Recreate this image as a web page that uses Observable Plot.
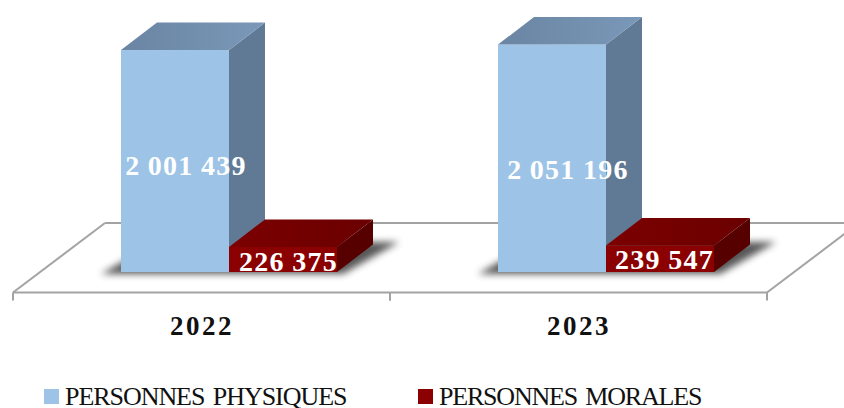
<!DOCTYPE html>
<html>
<head>
<meta charset="utf-8">
<script src="https://cdn.jsdelivr.net/npm/d3@7"></script>
<script src="https://cdn.jsdelivr.net/npm/@observablehq/plot@0.6"></script>
<style>
  html, body { margin: 0; padding: 0; background: #fff; }
  #chart { position: relative; width: 844px; height: 408px; overflow: hidden; }
  .shadow { filter: blur(3.5px); opacity: .85; }
  .lbl text, text.lbl, .lbl { letter-spacing: 1.3px; word-spacing: -1px; }
  .yr text, .yr { letter-spacing: 2.5px; }
  .legend { position: absolute; top: 380px; left: 0; width: 844px; height: 28px;
            font-family: "Liberation Serif", serif; font-size: 26px; color: #111; }
  .legend span { position: absolute; top: 6px; line-height: 22px; white-space: nowrap; word-spacing: 3px; }
  .legend i { position: absolute; top: 9px; width: 15px; height: 15px; }
</style>
</head>
<body>
<div id="chart"></div>
<script>
const years = ["2022", "2023"];
const series = ["PERSONNES PHYSIQUES", "PERSONNES MORALES"];
const physiques = [2001439, 2051196];
const morales = [226375, 239547];

const frontColors = ["#9dc3e6", "#8b0000"];
const sideColors = ["#607a96", "#560000"];
const topColors = [["#6a85a3", "#7a98b8"], ["#7c0000", "#6a0000"]];
const labelColor = "#ffffff";
// pixel nudges for the value labels [dx, dy], by series then year
const labelNudge = [[[10.5, 5], [15.5, 11]], [[5, 2], [4, 1]]];
const depth = {x: 36, y: 27.5};
const floorDepth = {x: 92, y: 69.5};
const serif = '"Liberation Serif", serif';

const rows = [];
years.forEach((year, i) => {
  rows.push({year, serie: series[0], value: physiques[i], s: 0, i});
  rows.push({year, serie: series[1], value: morales[i], s: 1, i});
});
const fmt = v => d3.format(",")(v).replace(/,/g, " ");
const svgNS = "http://www.w3.org/2000/svg";
function poly(parent, pts, fill) {
  const p = document.createElementNS(svgNS, "polygon");
  p.setAttribute("points", pts.map(d => d.join(",")).join(" "));
  p.setAttribute("fill", fill);
  parent.appendChild(p);
  return p;
}
const rectBox = r => ({
  x: +r.getAttribute("x"), y: +r.getAttribute("y"),
  w: +r.getAttribute("width"), h: +r.getAttribute("height")
});

// The floor is drawn once per facet; the outer diagonals belong to the first and last facet.
let floorCall = 0;
function floor(index, scales, values, d) {
  const g = document.createElementNS(svgNS, "g");
  const x0 = d.marginLeft, x1 = d.width - d.marginRight, y0 = d.height - d.marginBottom;
  const line = (a, b, c, e) => {
    const l = document.createElementNS(svgNS, "line");
    l.setAttribute("x1", a); l.setAttribute("y1", b); l.setAttribute("x2", c); l.setAttribute("y2", e);
    l.setAttribute("stroke", "#a3a3a3"); l.setAttribute("stroke-width", 2);
    g.appendChild(l);
  };
  const k = floorCall++;
  line(x0, y0, x1, y0);
  line(x0 + floorDepth.x, y0 - floorDepth.y, x1 + floorDepth.x, y0 - floorDepth.y);
  if (k === 0) line(x0, y0, x0 + floorDepth.x, y0 - floorDepth.y);
  if (k === years.length - 1) line(x1, y0, x1 + floorDepth.x, y0 - floorDepth.y);
  line(x0, y0, x0, y0 + 8);
  line(x1, y0, x1, y0 + 8);
  return g;
}

let gradId = 0;
function withDepth(index, scales, values, dims, ctx, next) {
  const g = next(index, scales, values, dims, ctx);
  const list = Array.from(index);
  Array.from(g.querySelectorAll("rect")).forEach((node, k) => {
    const r = rectBox(node);
    const parent = node.parentNode;
    const d = rows[list[k]];
    const id = "top" + (gradId++);
    const defs = document.createElementNS(svgNS, "defs");
    defs.innerHTML = `<linearGradient id="${id}"><stop offset="0" stop-color="${topColors[d.s][0]}"/><stop offset="1" stop-color="${topColors[d.s][1]}"/></linearGradient>`;
    parent.appendChild(defs);
    parent.appendChild(node); // keep each bar's faces together so the next bar sits above them
    const bx = r.x + r.w, by = r.y + r.h;
    poly(parent, [[bx, r.y], [bx + depth.x, r.y - depth.y], [bx + depth.x, by - depth.y], [bx, by]], sideColors[d.s]);
    poly(parent, [[r.x, r.y], [r.x + depth.x, r.y - depth.y], [bx + depth.x, r.y - depth.y], [bx, r.y]], `url(#${id})`);
  });
  return g;
}
function asShadow(index, scales, values, dims, ctx, next) {
  const g = next(index, scales, values, dims, ctx);
  const rs = Array.from(g.querySelectorAll("rect")).map(rectBox);
  g.querySelectorAll("rect").forEach(r => r.remove());
  const out = document.createElementNS(svgNS, "g");
  out.setAttribute("class", "shadow");
  const ext = {x: 56, y: 32};
  rs.forEach(r => {
    const l = r.x - 20, rt = r.x + r.w + 6, b = r.y + r.h + 2;
    poly(out, [[l, b], [rt, b], [rt + ext.x, b - ext.y], [l + ext.x, b - ext.y]], "#3a3a3a");
  });
  g.appendChild(out);
  return g;
}

const labelMarks = rows.map(d => Plot.text([d], {
  fx: "year",
  x: "serie",
  y: v => v.value / 2,
  text: v => fmt(v.value),
  dx: labelNudge[d.s][d.i][0],
  dy: labelNudge[d.s][d.i][1],
  fill: labelColor,
  fontFamily: serif,
  fontWeight: "bold",
  fontSize: 28,
  className: "lbl"
}));

const plot = Plot.plot({
  width: 844,
  height: 380,
  marginTop: 0,
  marginLeft: 13,
  marginRight: 77,
  marginBottom: 87.5,
  style: {background: "#fff", overflow: "hidden"},
  fx: {domain: years, padding: 0, label: null},
  x: {domain: series, range: [121, 337], padding: 0, axis: null},
  y: {domain: [0, 2452600], range: [272, 0], axis: null},
  color: {domain: series, range: frontColors},
  marks: [
    floor,
    Plot.barY(rows, {fx: "year", x: "serie", y: "value", fill: "#000", render: asShadow}),
    Plot.barY(rows, {fx: "year", x: "serie", y: "value", fill: "serie", render: withDepth}),
    ...labelMarks,
    Plot.axisFx({
      anchor: "bottom", tickSize: 0, tickPadding: 23, label: null, className: "yr",
      fontSize: 27, fontWeight: "bold", fontFamily: serif, fill: "#111"
    })
  ]
});
const root = document.getElementById("chart");
root.appendChild(plot);

const legend = document.createElement("div");
legend.className = "legend";
const legendPos = [[44, 65, -1.05], [418, 439, -1.2]];
series.forEach((s, k) => {
  const sw = document.createElement("i");
  sw.style.left = legendPos[k][0] + "px";
  sw.style.background = frontColors[k];
  const t = document.createElement("span");
  t.style.left = legendPos[k][1] + "px";
  t.style.letterSpacing = legendPos[k][2] + "px";
  t.textContent = s;
  legend.append(sw, t);
});
root.appendChild(legend);
</script>
</body>
</html>
